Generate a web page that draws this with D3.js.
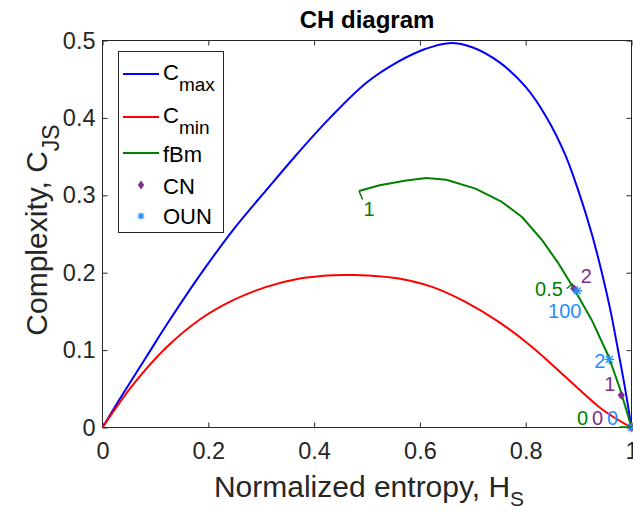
<!DOCTYPE html>
<html>
<head>
<meta charset="utf-8">
<script src="https://cdn.jsdelivr.net/npm/d3@7"></script>
<style>
  body { margin: 0; background: #fff; }
  svg { display: block; font-family: "Liberation Sans", Arial, Helvetica, sans-serif; }
</style>
</head>
<body>
<div id="container"></div>
<script>
// complexity-entropy (CH) plane: bounds, fBm curve and two noise families

// upper bound C_max
const cmaxH = [0, 0.03, 0.0585, 0.09, 0.1215, 0.1875, 0.25, 0.31, 0.37, 0.43, 0.5, 0.56, 0.61, 0.655,
	       0.7, 0.75, 0.8, 0.84, 0.875, 0.9, 0.925, 0.944, 0.96, 0.974, 0.988, 1];
const cmaxC = [0, 0.034, 0.065, 0.099, 0.133, 0.2, 0.258, 0.307, 0.355, 0.4, 0.446, 0.473, 0.489, 0.4966,
	       0.491, 0.472, 0.44, 0.4, 0.352, 0.305, 0.25, 0.2, 0.152, 0.102, 0.05, 0];

// lower bound C_min
const cminH = [0, 0.0585, 0.1215, 0.184, 0.247, 0.31, 0.373, 0.436, 0.475, 0.499, 0.56, 0.623, 0.686, 0.749, 0.812, 0.875, 0.938, 0.975, 1];
const cminC = [0, 0.056, 0.104, 0.1396, 0.1645, 0.1817, 0.1925, 0.1968, 0.197, 0.1965, 0.1925, 0.1817, 0.1623, 0.1365, 0.104, 0.0656, 0.0269, 0.0097, 0];

// fractional Brownian motion, Hurst 1 -> 0
const fbmH = [0.485, 0.524, 0.574, 0.612, 0.65, 0.705, 0.755, 0.793, 0.831, 0.862, 0.891, 0.925, 0.957, 0.979, 1];
const fbmC = [0.3055, 0.313, 0.319, 0.3225, 0.32, 0.3086, 0.2914, 0.272, 0.242, 0.212, 0.1796, 0.1387, 0.0914, 0.0484, 0];
const fbmLabelIdx = [0, 10, 14];
const fbmLabels = ["1", "0.5", "0"];

// coloured noise, k = 0, 1, 2
const cnH = [1, 0.9806, 0.891];
const cnC = [0, 0.0419, 0.1796];
const cnLabels = ["0", "1", "2"];

// Ornstein-Uhlenbeck noise, theta = 0, 2, 100
const ounH = [1, 0.958, 0.8975];
const ounC = [0, 0.088, 0.1766];
const ounLabels = ["0", "2", "100"];

const xTicks = [0, 0.2, 0.4, 0.6, 0.8, 1];
const xTickLabels = ["0", "0.2", "0.4", "0.6", "0.8", "1"];
const yTicks = [0, 0.1, 0.2, 0.3, 0.4, 0.5];
const yTickLabels = ["0", "0.1", "0.2", "0.3", "0.4", "0.5"];

const colors = {
    cmax: "#0000ff",
    cmin: "#ff0000",
    fbm: "#008000",
    cn: "#7e2f8e",
    oun: "#1f8fff",
    axis: "#262626"
};

// label nudges in pixels (dx, dy of baseline, anchor), one per label
const fbmNudge = [
    {dx: 10, dy: 25, anchor: "middle", lead: [[0, 0], [3.5, 8.5]]},
    {dx: -11, dy: 8, anchor: "end", lead: [[-7, 0], [-1, -5]]},
    {dx: -49, dy: -3, anchor: "middle", lead: [[-12, -0.5], [0, -0.5]]}
];
const cnNudge = [
    {dx: -34, dy: -3, anchor: "middle"},
    {dx: -11.5, dy: -4.5, anchor: "middle"},
    {dx: 12.5, dy: -5, anchor: "middle"}
];
const ounNudge = [
    {dx: -19, dy: -3, anchor: "middle"},
    {dx: -9.5, dy: 9, anchor: "middle"},
    {dx: -12.5, dy: 27, anchor: "middle"}
];

const width = 633,
      height = 512;

const svg = d3.select("#container").append("svg")
    .attr("width", width)
    .attr("height", height);

const x = d3.scaleLinear().domain([0, 1]).range([102.5, 631.5]);
const y = d3.scaleLinear().domain([0, 0.5]).range([427.5, 40.5]);

// axes: ticks point inward, box all round
const gx = svg.append("g")
    .attr("transform", "translate(0," + y(0) + ")")
    .call(d3.axisBottom(x).tickValues(xTicks)
	  .tickFormat((d, i) => xTickLabels[i])
	  .tickSizeInner(-5).tickSizeOuter(0).tickPadding(15));

const gy = svg.append("g")
    .attr("transform", "translate(" + x(0) + ",0)")
    .call(d3.axisLeft(y).tickValues(yTicks)
	  .tickFormat((d, i) => yTickLabels[i])
	  .tickSizeInner(-5).tickSizeOuter(0).tickPadding(7));

const gt = svg.append("g")
    .attr("transform", "translate(0," + y(0.5) + ")")
    .call(d3.axisTop(x).tickValues(xTicks).tickFormat("")
	  .tickSizeInner(-5).tickSizeOuter(0));

const gr = svg.append("g")
    .attr("transform", "translate(" + x(1) + ",0)")
    .call(d3.axisRight(y).tickValues(yTicks).tickFormat("")
	  .tickSizeInner(-5).tickSizeOuter(0));

[gx, gy, gt, gr].forEach(function(g){
    g.select(".domain").remove();
    g.selectAll("line").attr("stroke", colors.axis);
    g.selectAll("text")
	.attr("fill", colors.axis)
	.style("font-size", "23.5px")
	.style("font-family", "\"Liberation Sans\", Arial, sans-serif");
});

svg.append("rect")
    .attr("x", x(0))
    .attr("y", y(0.5))
    .attr("width", x(1) - x(0))
    .attr("height", y(0) - y(0.5))
    .attr("fill", "none")
    .attr("stroke", colors.axis)
    .attr("stroke-width", 1);

// curves
const line = d3.line()
    .x(d => x(d[0]))
    .y(d => y(d[1]));

function drawCurve(hs, cs, color, curve){
    svg.append("path")
	.datum(d3.zip(hs, cs))
	.attr("fill", "none")
	.attr("stroke", color)
	.attr("stroke-width", 2)
	.attr("stroke-linejoin", "round")
	.attr("d", line.curve(curve));
}

drawCurve(cmaxH, cmaxC, colors.cmax, d3.curveCatmullRom);
drawCurve(cminH, cminC, colors.cmin, d3.curveCatmullRom);
drawCurve(fbmH, fbmC, colors.fbm, d3.curveLinear);

// markers
function diamond(w, h){
    return "M0," + (-h) + "L" + w + ",0L0," + h + "L" + (-w) + ",0Z";
}

function asterisk(r){
    var a = r * Math.SQRT1_2;
    return "M" + (-r) + ",0L" + r + ",0" +
	"M0," + (-r) + "L0," + r +
	"M" + (-a) + "," + (-a) + "L" + a + "," + a +
	"M" + (-a) + "," + a + "L" + a + "," + (-a);
}

svg.append("g").selectAll("path")
    .data(d3.zip(cnH, cnC))
    .enter().append("path")
    .attr("transform", d => "translate(" + x(d[0]) + "," + y(d[1]) + ")")
    .attr("d", diamond(3.6, 4.6))
    .attr("fill", colors.cn);

svg.append("g").selectAll("path")
    .data(d3.zip(ounH, ounC))
    .enter().append("path")
    .attr("transform", d => "translate(" + x(d[0]) + "," + y(d[1]) + ")")
    .attr("d", asterisk(4.8))
    .attr("fill", "none")
    .attr("stroke", colors.oun)
    .attr("stroke-width", 1.4);

// point labels
function drawLabels(hs, cs, labels, nudges, color){
    var g = svg.append("g");
    labels.forEach(function(lab, i){
	var px = x(hs[i]), py = y(cs[i]), n = nudges[i];
	if (n.lead){
	    g.append("line")
		.attr("x1", px + n.lead[0][0]).attr("y1", py + n.lead[0][1])
		.attr("x2", px + n.lead[1][0]).attr("y2", py + n.lead[1][1])
		.attr("stroke", color)
		.attr("stroke-width", 1.5);
	}
	g.append("text")
	    .attr("x", px + n.dx)
	    .attr("y", py + n.dy)
	    .attr("text-anchor", n.anchor)
	    .attr("fill", color)
	    .style("font-size", "20px")
	    .text(lab);
    });
}

drawLabels(fbmLabelIdx.map(i => fbmH[i]), fbmLabelIdx.map(i => fbmC[i]),
	   fbmLabels, fbmNudge, colors.fbm);
drawLabels(cnH, cnC, cnLabels, cnNudge, colors.cn);
drawLabels(ounH, ounC, ounLabels, ounNudge, colors.oun);

// title and axis labels
svg.append("text")
    .attr("x", (x(0) + x(1)) / 2)
    .attr("y", 28)
    .attr("text-anchor", "middle")
    .attr("fill", "#000")
    .style("font-size", "24px")
    .style("font-weight", "bold")
    .text("CH diagram");

var xl = svg.append("text")
    .attr("x", (x(0) + x(1)) / 2 + 2)
    .attr("y", 497)
    .attr("text-anchor", "middle")
    .attr("fill", colors.axis)
    .style("font-size", "30px");
xl.append("tspan").text("Normalized entropy, H");
xl.append("tspan").attr("dy", 9).style("font-size", "21px").text("S");

var yl = svg.append("text")
    .attr("transform", "translate(47," + ((y(0) + y(0.5)) / 2 - 4) + ") rotate(-90)")
    .attr("text-anchor", "middle")
    .attr("fill", colors.axis)
    .style("font-size", "30px");
yl.append("tspan").text("Complexity, C");
yl.append("tspan").attr("dy", 12).style("font-size", "23px").text("JS");

// legend
const legendItems = [
    {main: "C", sub: "max", type: "line", color: colors.cmax, ly: 74, ty: 80},
    {main: "C", sub: "min", type: "line", color: colors.cmin, ly: 117, ty: 123},
    {main: "fBm", sub: null, type: "line", color: colors.fbm, ly: 153, ty: 161.5},
    {main: "CN", sub: null, type: "diamond", color: colors.cn, ly: 185, ty: 194},
    {main: "OUN", sub: null, type: "asterisk", color: colors.oun, ly: 216, ty: 224}
];

const legend = svg.append("g");

legend.append("rect")
    .attr("x", 118.5)
    .attr("y", 51.5)
    .attr("width", 105)
    .attr("height", 181)
    .attr("fill", "#fff")
    .attr("stroke", colors.axis)
    .attr("stroke-width", 1);

legendItems.forEach(function(it){
    if (it.type === "line"){
	legend.append("line")
	    .attr("x1", 123).attr("x2", 159)
	    .attr("y1", it.ly).attr("y2", it.ly)
	    .attr("stroke", it.color)
	    .attr("stroke-width", 2);
    } else if (it.type === "diamond"){
	legend.append("path")
	    .attr("transform", "translate(141," + it.ly + ")")
	    .attr("d", diamond(3.2, 4.4))
	    .attr("fill", it.color);
    } else {
	legend.append("path")
	    .attr("transform", "translate(141," + it.ly + ")")
	    .attr("d", asterisk(3.6))
	    .attr("fill", "none")
	    .attr("stroke", it.color)
	    .attr("stroke-width", 1.2);
    }
    var t = legend.append("text")
	.attr("x", 163)
	.attr("y", it.ty)
	.attr("fill", "#000")
	.style("font-size", "22px");
    t.append("tspan").text(it.main);
    if (it.sub){
	t.append("tspan").attr("dy", 11).style("font-size", "19px").text(it.sub);
    }
});
</script>
</body>
</html>
